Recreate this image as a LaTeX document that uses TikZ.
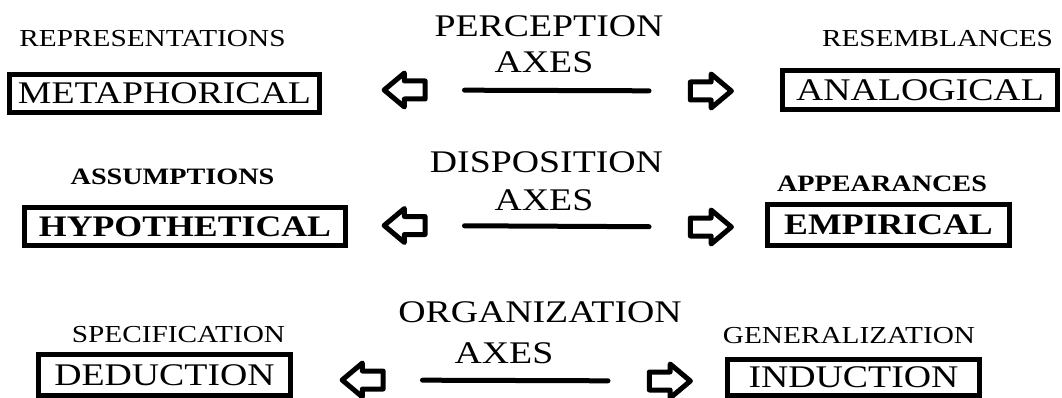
\documentclass[tikz,border=0pt]{standalone}
\usepackage{fontspec}
\setmainfont{Liberation Serif}
\usetikzlibrary{shapes.arrows}
\newcommand{\wide}[1]{\scalebox{1.2}[1]{#1}}
\begin{document}
\begin{tikzpicture}[x=1pt, y=-1pt,
  axtitle/.style={anchor=base, inner sep=0pt, font=\fontsize{31.5}{33}\selectfont},
  tag/.style={anchor=base, inner sep=0pt, font=\fontsize{24.4}{26}\selectfont},
  tagbold/.style={anchor=base, inner sep=0pt, font=\bfseries\fontsize{23.5}{25}\selectfont},
  wordbox/.style={draw, line width=5pt, inner sep=0pt, font=\fontsize{31.5}{33}\selectfont},
  boldbox/.style={wordbox, font=\bfseries\fontsize{29.8}{31}\selectfont},
  hollow/.style={single arrow, draw, fill=white, line width=5pt, line join=round, inner sep=6.5pt,
    single arrow head extend=8pt, single arrow tip angle=80, minimum height=41pt, minimum width=29pt},
  axisline/.style={line width=5pt, line cap=round, shorten <=54.5pt, shorten >=56.5pt}]
\useasboundingbox (0,0) rectangle (1062,398);

% perception
\node[axtitle] (perc) at (549,37) {\wide{PERCEPTION}};
\node[axtitle] (percaxes) at (544,73) {\wide{AXES}};
\node[tag] (repr) at (152.5,47) {\wide{REPRESENTATIONS}};
\node[tag] (resem) at (937.5,47) {\wide{RESEMBLANCES}};
\node[wordbox, minimum width=310, minimum height=38] (meta) at (164.5,93.5) {\wide{METAPHORICAL}};
\node[wordbox, minimum width=275, minimum height=39] (analog) at (920,90) {\wide{ANALOGICAL}};
\node[hollow, shape border rotate=180] (la1) at (410,90) {};
\node[hollow] (ra1) at (705.5,91) {};
\draw[axisline] (la1.center) -- (ra1.center);

% disposition
\node[axtitle] (disp) at (546.5,173) {\wide{DISPOSITION}};
\node[axtitle] (dispaxes) at (544,211) {\wide{AXES}};
\node[tagbold] (assum) at (172.5,185) {\wide{ASSUMPTIONS}};
\node[tagbold] (appear) at (882,192) {\wide{APPEARANCES}};
\node[boldbox, minimum width=321, minimum height=38] (hypo) at (185,226.5) {\wide{HYPOTHETICAL}};
\node[boldbox, minimum width=242, minimum height=41] (empir) at (888.5,225) {\wide{EMPIRICAL}\hspace{10pt}};
\node[hollow, shape border rotate=180] (la2) at (410,225.5) {};
\node[hollow] (ra2) at (705.5,227) {};
\draw[axisline] (la2.center) -- (ra2.center);

% organization
\node[axtitle] (organ) at (540,322) {\wide{ORGANIZATION}};
\node[axtitle] (organaxes) at (504,363) {\wide{AXES}};
\node[tag] (specif) at (178.5,342) {\wide{SPECIFICATION}};
\node[tag] (general) at (849,343) {\wide{GENERALIZATION}};
\node[wordbox, minimum width=252, minimum height=41] (deduc) at (164.5,375) {\wide{DEDUCTION}};
\node[wordbox, minimum width=252, minimum height=36] (induc) at (853.5,377.5) {\wide{INDUCTION}\hspace{19pt}};
\node[hollow, shape border rotate=180] (la3) at (368,380) {};
\node[hollow] (ra3) at (664.5,381) {};
\draw[axisline] (la3.center) -- (ra3.center);
\end{tikzpicture}
\end{document}
